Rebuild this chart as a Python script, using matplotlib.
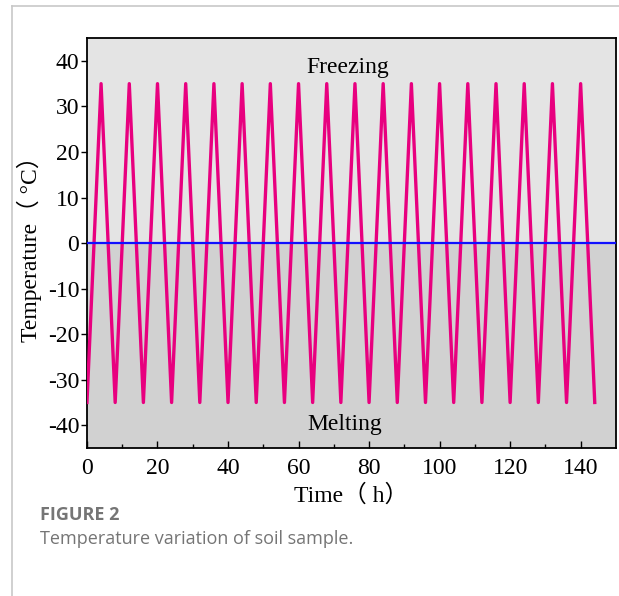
import matplotlib.pyplot as plt
from matplotlib.lines import Line2D

plt.rcParams['axes.unicode_minus'] = False

# time (h) and temperature (°C) at each turning point of the cycles
time_h = [0, 4, 8, 12, 16, 20, 24, 28, 32, 36, 40, 44, 48, 52, 56, 60, 64, 68, 72,
          76, 80, 84, 88, 92, 96, 100, 104, 108, 112, 116, 120, 124, 128, 132, 136, 140, 144]
temp_c = [-35, 35, -35, 35, -35, 35, -35, 35, -35, 35, -35, 35, -35, 35, -35, 35, -35, 35, -35,
          35, -35, 35, -35, 35, -35, 35, -35, 35, -35, 35, -35, 35, -35, 35, -35, 35, -35]
zero_line = [0, 150]
x_ticks = [0, 20, 40, 60, 80, 100, 120, 140]
y_ticks = [-40, -30, -20, -10, 0, 10, 20, 30, 40]

serif = ['Liberation Serif', 'Noto Sans CJK SC']

fig = plt.figure(figsize=(6.19, 5.96), dpi=100)
ax = fig.add_axes([0.1405, 0.2483, 0.8545, 0.6877])

# shaded background, lighter above zero
ax.axhspan(0, 45, color='#e4e4e4', zorder=0, lw=0)
ax.axhspan(-45, 0, color='#d1d1d1', zorder=0, lw=0)

ax.plot(time_h, temp_c, color='#e8007f', lw=2.4, zorder=3)
ax.plot(zero_line, [0, 0], color='#1010ff', lw=1.6, zorder=4)

ax.text(74, 38.6, 'Freezing', fontsize=17, family=serif, ha='center', va='center')
ax.text(73, -39.8, 'Melting', fontsize=17, family=serif, ha='center', va='center')

ax.set_xlim(0, 150)
ax.set_ylim(-45, 45)
ax.set_xticks(x_ticks)
ax.set_xticks([10, 30, 50, 70, 90, 110, 130], minor=True)
ax.set_yticks(y_ticks)
ax.tick_params(axis='x', direction='in', length=5, width=1, labelsize=17, pad=7)
ax.tick_params(axis='x', which='minor', direction='in', length=3, width=1)
ax.tick_params(axis='y', direction='out', length=4.5, width=1, labelsize=17, pad=1)
for lab in ax.get_xticklabels() + ax.get_yticklabels():
    lab.set_family(serif)
for s in ax.spines.values():
    s.set_linewidth(1.3)

ax.set_xlabel('Time（ h）', fontsize=17, family=serif, labelpad=4)
ax.set_ylabel('Temperature（ °C）', fontsize=17, family=serif, labelpad=4)

# page frame and caption
fig.add_artist(Line2D([12 / 619, 12 / 619], [0, 1 - 6 / 596], color='#c8c8c8', lw=1.2))
fig.add_artist(Line2D([12 / 619, 1], [1 - 6 / 596, 1 - 6 / 596], color='#c8c8c8', lw=1.2))
fig.text(40 / 619, 1 - 515 / 596, 'FIGURE 2', fontsize=13, fontweight='bold',
         color='#757575', family='Open Sans', va='center')
fig.text(40 / 619, 1 - 539 / 596, 'Temperature variation of soil sample.', fontsize=13,
         color='#757575', family='Open Sans', va='center')

fig.savefig('out.png', dpi=100)
